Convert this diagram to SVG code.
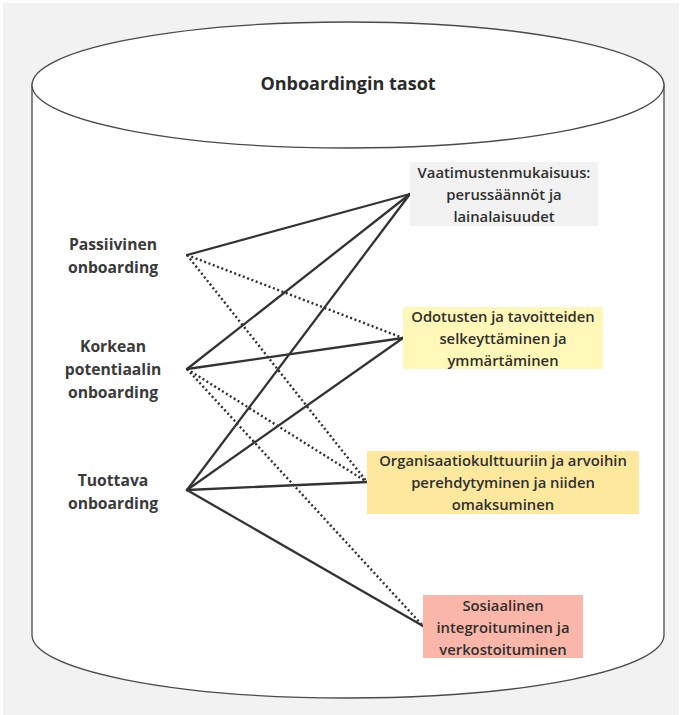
<svg xmlns="http://www.w3.org/2000/svg" width="682" height="715" viewBox="0 0 682 715">
  <style>
    .bg { fill: #f2f2f2; }
    .cyl { fill: #ffffff; stroke: #4a4a4a; stroke-width: 1.3; }
    .title { font-family: "Open Sans", "Noto Sans", "DejaVu Sans", sans-serif; font-size: 18px; font-weight: 700; fill: #2b2b2b; text-anchor: middle; }
    .lbl { font-family: "Open Sans", "Noto Sans", "DejaVu Sans", sans-serif; font-size: 15.7px; font-weight: 700; fill: #3a3a3a; text-anchor: middle; }
    .box-t { font-family: "Open Sans", "Noto Sans", "DejaVu Sans", sans-serif; font-size: 14.8px; font-weight: 600; fill: #2f2f2f; text-anchor: middle; }
    .solid { stroke: #333333; stroke-width: 2.3; fill: none; stroke-linecap: round; }
    .dot { stroke: #2e2e2e; stroke-width: 2.4; fill: none; stroke-dasharray: 2 2.6; stroke-linecap: butt; }
  </style>

  <!-- page background -->
  <rect x="3" y="3" width="676" height="712" class="bg"/>

  <!-- container cylinder -->
  <g id="cylinder">
    <path class="cyl" d="M32,85 L32,635 A316,63 0 0 0 664,635 L664,85 Z"/>
    <ellipse class="cyl" cx="348" cy="85" rx="316" ry="63"/>
    <text class="title" x="348" y="90">Onboardingin tasot</text>
  </g>

  <!-- connectors -->
  <g id="connectors">
    <!-- Passiivinen onboarding -->
    <line class="solid" x1="187" y1="255" x2="410" y2="194"/>
    <line class="dot" x1="187" y1="255" x2="403" y2="338"/>
    <line class="dot" x1="187" y1="255" x2="367" y2="482"/>
    <!-- Korkean potentiaalin onboarding -->
    <line class="solid" x1="187" y1="369" x2="410" y2="194"/>
    <line class="solid" x1="187" y1="369" x2="403" y2="338"/>
    <line class="dot" x1="187" y1="369" x2="367" y2="482"/>
    <line class="dot" x1="187" y1="369" x2="423" y2="626"/>
    <!-- Tuottava onboarding -->
    <line class="solid" x1="187" y1="490" x2="410" y2="194"/>
    <line class="solid" x1="187" y1="490" x2="403" y2="338"/>
    <line class="solid" x1="187" y1="490" x2="367" y2="482"/>
    <line class="solid" x1="187" y1="490" x2="423" y2="626"/>
  </g>

  <!-- onboarding types -->
  <g id="passiivinen">
    <text class="lbl" x="113" y="250">Passiivinen</text>
    <text class="lbl" x="113" y="273">onboarding</text>
  </g>
  <g id="korkean">
    <text class="lbl" x="113" y="352">Korkean</text>
    <text class="lbl" x="113" y="375">potentiaalin</text>
    <text class="lbl" x="113" y="398">onboarding</text>
  </g>
  <g id="tuottava">
    <text class="lbl" x="113" y="486">Tuottava</text>
    <text class="lbl" x="113" y="509">onboarding</text>
  </g>

  <!-- levels -->
  <g id="vaatimustenmukaisuus">
    <rect x="410" y="162" width="188" height="64" fill="#f2f2f2"/>
    <text class="box-t" x="504" y="178">Vaatimustenmukaisuus:</text>
    <text class="box-t" x="504" y="200">perussäännöt ja</text>
    <text class="box-t" x="504" y="222">lainalaisuudet</text>
  </g>
  <g id="odotukset">
    <rect x="403" y="307" width="200" height="62" fill="#fff8b8"/>
    <text class="box-t" x="503" y="322">Odotusten ja tavoitteiden</text>
    <text class="box-t" x="503" y="344">selkeyttäminen ja</text>
    <text class="box-t" x="503" y="366">ymmärtäminen</text>
  </g>
  <g id="organisaatiokulttuuri">
    <rect x="367" y="451" width="272" height="63" fill="#fde89e"/>
    <text class="box-t" x="503" y="466">Organisaatiokulttuuriin ja arvoihin</text>
    <text class="box-t" x="503" y="488">perehdytyminen ja niiden</text>
    <text class="box-t" x="503" y="510">omaksuminen</text>
  </g>
  <g id="sosiaalinen">
    <rect x="423" y="595" width="160" height="63" fill="#fab6a8"/>
    <text class="box-t" x="503" y="611">Sosiaalinen</text>
    <text class="box-t" x="503" y="633">integroituminen ja</text>
    <text class="box-t" x="503" y="655">verkostoituminen</text>
  </g>
</svg>
